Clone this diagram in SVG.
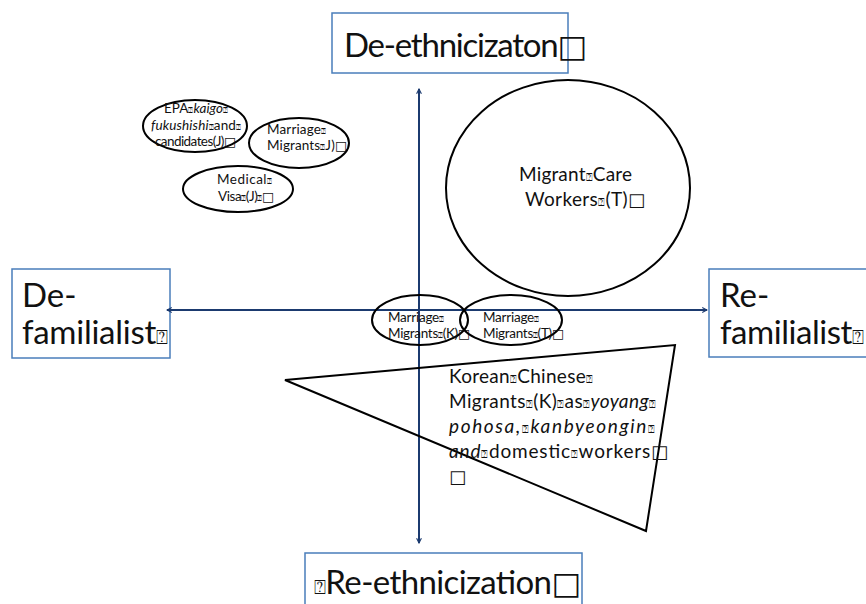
<svg xmlns="http://www.w3.org/2000/svg" width="866" height="604" viewBox="0 0 866 604">
<style>
  .box { fill: #fff; stroke: #4a7ebb; stroke-width: 1.5; }
  .shape { fill: none; stroke: #000; stroke-width: 2; }
  .axis { stroke: #1b3a6f; stroke-width: 2; fill: none; }
  text { font-family: Lato, "Open Sans", "DejaVu Sans", sans-serif; fill: #111; }
  .big { font-size: 33px; }
  .mid { font-size: 19px; }
  .sm { font-size: 13.5px; }
  .q { font-size: 0.6em; }
  .b { font-family: "DejaVu Sans", sans-serif; font-size: 0.95em; }
  .i { font-style: italic; }
</style>
<defs>
  <marker id="arr" viewBox="0 0 10 10" refX="9" refY="5" markerWidth="6" markerHeight="6" orient="auto-start-reverse" markerUnits="userSpaceOnUse">
    <path d="M1,1 L9,5 L1,9" fill="none" stroke="#1b3a6f" stroke-width="1.8"/>
  </marker>
</defs>
<rect width="866" height="604" fill="#fff"/>

<g id="top-box">
  <rect class="box" x="332" y="13" width="236" height="60"/>
  <text class="big" x="344" y="57" textLength="243">De-ethnicizaton<tspan class="b">□</tspan></text>
</g>
<g id="left-box">
  <rect class="box" x="12" y="269" width="158" height="89"/>
  <text class="big" x="22" y="307">De-</text>
  <text class="big" x="22" y="344" textLength="146">familialist<tspan class="q">⍰</tspan></text>
</g>
<g id="right-box">
  <rect class="box" x="709" y="269" width="160" height="88"/>
  <text class="big" x="720" y="307">Re-</text>
  <text class="big" x="720" y="344" textLength="144">familialist<tspan class="q">⍰</tspan></text>
</g>
<g id="bottom-box">
  <rect class="box" x="305" y="553" width="277" height="60"/>
  <text class="big" x="314" y="594" textLength="267"><tspan class="q">⍰</tspan>Re-ethnicization<tspan class="b">□</tspan></text>
</g>

<g id="connectors">
  <line class="axis" x1="419" y1="89" x2="419" y2="543" marker-start="url(#arr)" marker-end="url(#arr)"/>
  <line class="axis" x1="167" y1="310" x2="707" y2="310" marker-start="url(#arr)" marker-end="url(#arr)"/>
</g>

<g id="epa">
  <ellipse class="shape" cx="195" cy="126" rx="52" ry="26"/>
  <text class="sm" x="164" y="113" textLength="64">EPA<tspan class="q">⍰</tspan><tspan class="i">kaigo</tspan><tspan class="q">⍰</tspan></text>
  <text class="sm" x="151" y="130" textLength="90"><tspan class="i">fukushishi</tspan><tspan class="q">⍰</tspan>and<tspan class="q">⍰</tspan></text>
  <text class="sm" x="155" y="146" textLength="81">candidates(J)<tspan class="b">□</tspan></text>
</g>
<g id="marriage-j">
  <ellipse class="shape" cx="299" cy="143" rx="50" ry="25"/>
  <text class="sm" x="267" y="134" textLength="59">Marriage<tspan class="q">⍰</tspan></text>
  <text class="sm" x="267" y="150" textLength="80">Migrants<tspan class="q">⍰</tspan>J)<tspan class="b">□</tspan></text>
</g>
<g id="medical">
  <ellipse class="shape" cx="238" cy="189" rx="55" ry="23"/>
  <text class="sm" x="217" y="184" textLength="55">Medical<tspan class="q">⍰</tspan></text>
  <text class="sm" x="218" y="201" textLength="56">Visa<tspan class="q">⍰</tspan>(J)<tspan class="q">⍰</tspan><tspan class="b">□</tspan></text>
</g>
<g id="migrant-care">
  <ellipse class="shape" cx="568" cy="188" rx="122" ry="108"/>
  <text class="mid" x="519" y="181" textLength="113">Migrant<tspan class="q">⍰</tspan>Care</text>
  <text class="mid" x="525" y="206" textLength="120">Workers<tspan class="q">⍰</tspan>(T)<tspan class="b">□</tspan></text>
</g>
<g id="marriage-k">
  <ellipse class="shape" cx="420" cy="320" rx="48" ry="25"/>
  <text class="sm" x="388" y="322" textLength="56">Marriage<tspan class="q">⍰</tspan></text>
  <text class="sm" x="388" y="338" textLength="82">Migrants<tspan class="q">⍰</tspan>(K)<tspan class="b">□</tspan></text>
</g>
<g id="marriage-t">
  <ellipse class="shape" cx="511" cy="320" rx="51" ry="25"/>
  <text class="sm" x="483" y="322" textLength="56">Marriage<tspan class="q">⍰</tspan></text>
  <text class="sm" x="483" y="338" textLength="81">Migrants<tspan class="q">⍰</tspan>(T)<tspan class="b">□</tspan></text>
</g>
<g id="korean-chinese">
  <polygon class="shape" points="285,380 675,345 646,531"/>
  <text class="mid" x="449" y="383" textLength="144">Korean<tspan class="q">⍰</tspan>Chinese<tspan class="q">⍰</tspan></text>
  <text class="mid" x="449" y="408" textLength="207">Migrants<tspan class="q">⍰</tspan>(K)<tspan class="q">⍰</tspan>as<tspan class="q">⍰</tspan><tspan class="i">yoyang</tspan><tspan class="q">⍰</tspan></text>
  <text class="mid" x="449" y="433" textLength="206"><tspan class="i">pohosa,</tspan><tspan class="q">⍰</tspan><tspan class="i">kanbyeongin</tspan><tspan class="q">⍰</tspan></text>
  <text class="mid" x="449" y="458" textLength="219"><tspan class="i">and</tspan><tspan class="q">⍰</tspan>domestic<tspan class="q">⍰</tspan>workers<tspan class="b">□</tspan></text>
  <text class="mid" x="449" y="483"><tspan class="b">□</tspan></text>
</g>
</svg>
